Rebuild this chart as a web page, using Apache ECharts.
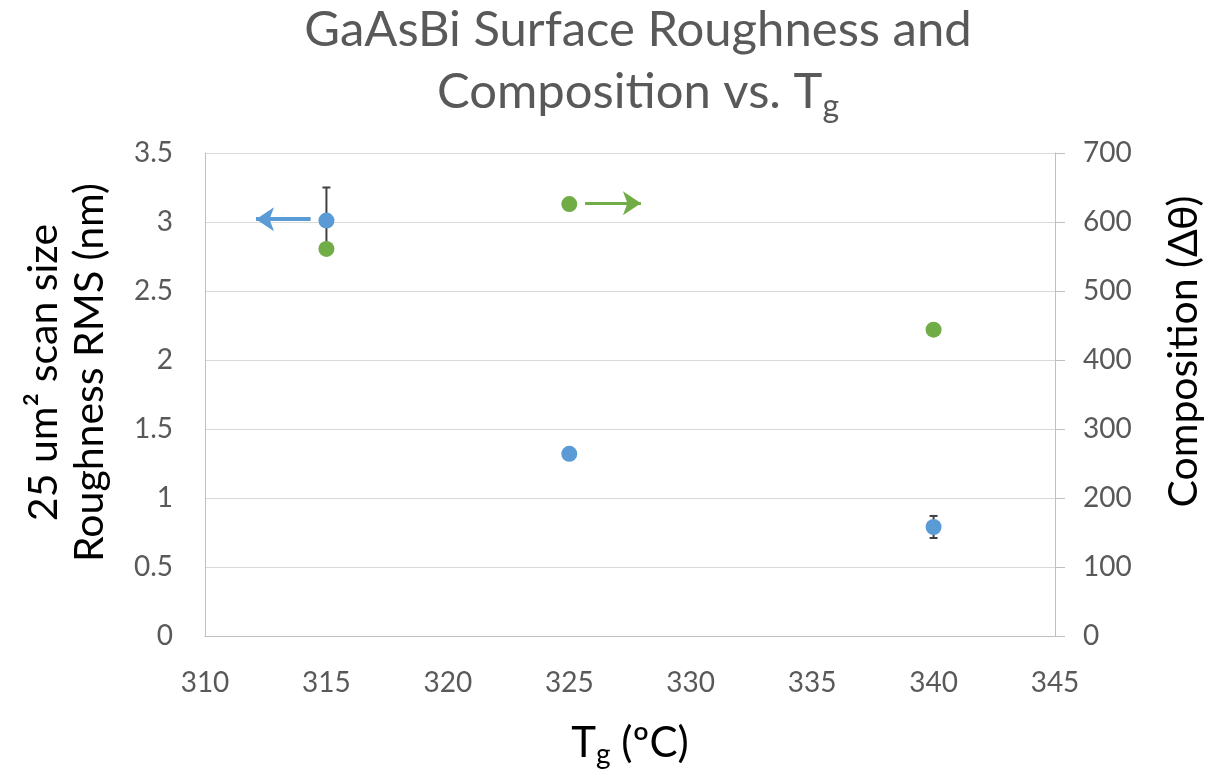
<!DOCTYPE html>
<html>
<head>
<meta charset="utf-8">
<script src="https://cdn.jsdelivr.net/npm/echarts@6/dist/echarts.min.js"></script>
<style>
html,body{margin:0;padding:0;background:#fff;}
#chart{width:1211px;height:775px;}
</style>
</head>
<body>
<div id="chart"></div>
<script>
// ---- data ----
const tgValues = [315, 325, 340];
const roughness = [3.01, 1.32, 0.79];
const roughnessErr = [0.24, 0, 0.08];
const composition = [561, 626, 444];
const xTicks = [310, 315, 320, 325, 330, 335, 340, 345];
const leftTicks = [0, 0.5, 1, 1.5, 2, 2.5, 3, 3.5];
const rightTicks = [0, 100, 200, 300, 400, 500, 600, 700];
// annotation arrows [x from, x to, y]
const blueArrow = [314.35, 312.1, 3.02];
const greenArrow = [325.65, 327.95, 627];

const FONT = 'Lato, "Open Sans", sans-serif';
const chart = echarts.init(document.getElementById('chart'));

const errData = tgValues.map((x, i) => [x, roughness[i] - roughnessErr[i], roughness[i] + roughnessErr[i]]).filter((d, i) => roughnessErr[i] > 0);

chart.setOption({
  backgroundColor: '#fff',
  animation: false,
  title: {
    text: 'GaAsBi Surface Roughness and\nComposition vs. T{sub|g}',
    left: 633,
    top: -6,
    textAlign: 'center',
    textStyle: {
      fontFamily: FONT, fontSize: 49, fontWeight: 'normal', color: '#595959', lineHeight: 62,
      rich: { sub: { fontFamily: FONT, fontSize: 32, color: '#595959', padding: [30, 0, 0, 0] } }
    }
  },
  grid: { left: 205, right: 156, top: 153, bottom: 139, outerBoundsMode: 'none', containLabel: false },
  xAxis: {
    type: 'value', min: xTicks[0], max: xTicks[xTicks.length - 1], interval: 5,
    name: 'T{sub|g} (ºC)', nameLocation: 'middle', nameGap: 81,
    nameTextStyle: { fontFamily: FONT, fontSize: 42, color: '#000',
      rich: { sub: { fontFamily: FONT, fontSize: 28, color: '#000', padding: [24, 0, 0, 0] } } },
    axisLine: { show: true, lineStyle: { color: '#bfbfbf', width: 1 } },
    axisTick: { show: false },
    splitLine: { show: false },
    axisLabel: { fontFamily: FONT, fontSize: 28, color: '#595959', margin: 33 }
  },
  yAxis: [
    {
      type: 'value', min: leftTicks[0], max: leftTicks[leftTicks.length - 1], interval: 0.5,
      name: '25 um² scan size\nRoughness RMS (nm)', nameLocation: 'middle', nameGap: 92, nameRotate: 90,
      nameTextStyle: { fontFamily: FONT, fontSize: 41, color: '#000', lineHeight: 46, padding: [0, 0, 0, 44] },
      axisLine: { show: true, lineStyle: { color: '#bfbfbf', width: 1 } },
      axisTick: { show: false },
      splitLine: { show: true, lineStyle: { color: '#d9d9d9', width: 1 } },
      axisLabel: { fontFamily: FONT, fontSize: 28, color: '#595959', margin: 32 }
    },
    {
      type: 'value', min: rightTicks[0], max: rightTicks[rightTicks.length - 1], interval: 100,
      name: 'Composition (Δθ)', nameLocation: 'middle', nameGap: 108, nameRotate: 90,
      nameTextStyle: { fontFamily: FONT, fontSize: 41, color: '#000', padding: [0, 0, 0, 86] },
      axisLine: { show: true, lineStyle: { color: '#bfbfbf', width: 1 } },
      axisTick: { show: true, length: 10, inside: false, lineStyle: { color: '#bfbfbf' } },
      splitLine: { show: false },
      axisLabel: { fontFamily: FONT, fontSize: 28, color: '#595959', margin: 28 }
    }
  ],
  series: [
    {
      type: 'custom', yAxisIndex: 0, z: 1, silent: true,
      data: errData,
      renderItem: function (params, api) {
        const top = api.coord([api.value(0), api.value(2)]);
        const bot = api.coord([api.value(0), api.value(1)]);
        const c = 4;
        const st = { stroke: '#404040', lineWidth: 2 };
        return {
          type: 'group',
          children: [
            { type: 'line', shape: { x1: top[0], y1: top[1], x2: bot[0], y2: bot[1] }, style: st },
            { type: 'line', shape: { x1: top[0] - c, y1: top[1], x2: top[0] + c, y2: top[1] }, style: st },
            { type: 'line', shape: { x1: bot[0] - c, y1: bot[1], x2: bot[0] + c, y2: bot[1] }, style: st }
          ]
        };
      }
    },
    {
      name: 'Roughness', type: 'scatter', yAxisIndex: 0, z: 3,
      data: tgValues.map((x, i) => [x, roughness[i]]),
      symbol: 'circle', symbolSize: 16,
      itemStyle: { color: '#5B9BD5', opacity: 1 },
      markLine: {
        silent: true, symbol: ['none', 'arrow'], symbolSize: [18, 18],
        label: { show: false },
        lineStyle: { color: '#5B9BD5', width: 4, type: 'solid' },
        data: [[{ coord: [blueArrow[0], blueArrow[2]] }, { coord: [blueArrow[1], blueArrow[2]] }]]
      }
    },
    {
      name: 'Composition', type: 'scatter', yAxisIndex: 1, z: 4,
      data: tgValues.map((x, i) => [x, composition[i]]),
      symbol: 'circle', symbolSize: 16,
      itemStyle: { color: '#70AD47', opacity: 1 },
      markLine: {
        silent: true, symbol: ['none', 'arrow'], symbolSize: [18, 18],
        label: { show: false },
        lineStyle: { color: '#70AD47', width: 3, type: 'solid' },
        data: [[{ coord: [greenArrow[0], greenArrow[2]] }, { coord: [greenArrow[1], greenArrow[2]] }]]
      }
    }
  ]
});
</script>
</body>
</html>
